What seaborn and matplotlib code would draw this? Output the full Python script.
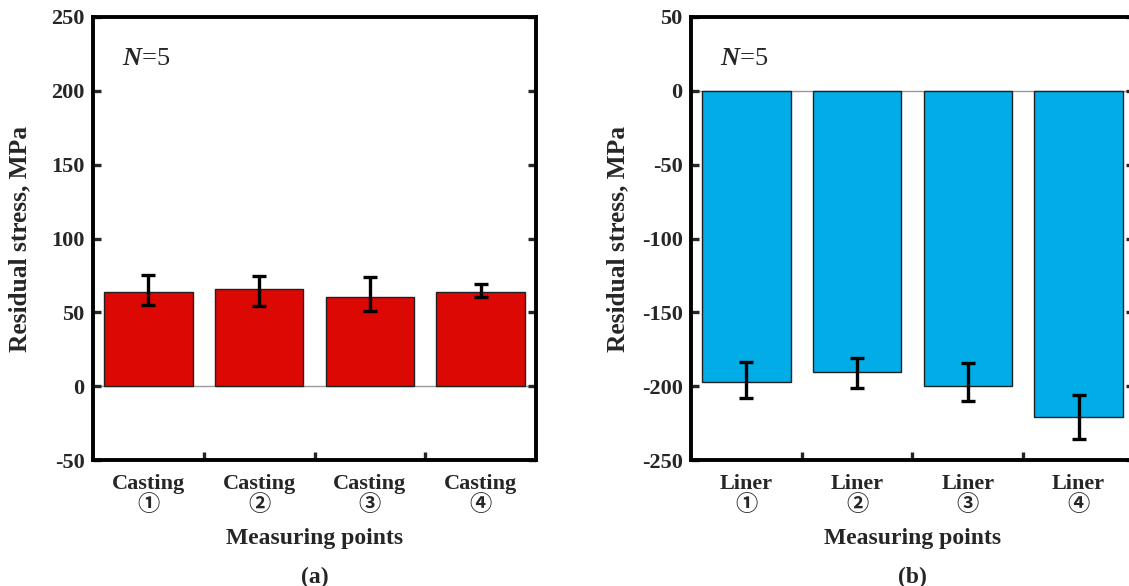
import matplotlib
matplotlib.use("Agg")
import matplotlib.pyplot as plt
import seaborn as sns
import numpy as np

# Residual stress measurements (MPa), N=5 per point
casting_labels = ["Casting\n①", "Casting\n②", "Casting\n③", "Casting\n④"]
casting_mean = [63.6, 65.5, 60.5, 63.9]
casting_err_low = [8.3, 11.5, 9.5, 3.2]
casting_err_high = [12.0, 9.2, 13.3, 5.6]

liner_labels = ["Liner\n①", "Liner\n②", "Liner\n③", "Liner\n④"]
liner_mean = [-197.4, -190.6, -199.6, -220.8]
liner_err_low = [10.8, 10.8, 10.6, 15.2]
liner_err_high = [13.6, 9.5, 15.1, 14.6]

sns.set_theme(style="white")
plt.rcParams["font.family"] = ["Liberation Serif", "Noto Sans CJK SC", "DejaVu Sans"]
plt.rcParams["font.weight"] = "bold"
plt.rcParams["mathtext.fontset"] = "custom"
plt.rcParams["mathtext.it"] = "Liberation Serif:italic"
plt.rcParams["mathtext.rm"] = "Liberation Serif"

fig = plt.figure(figsize=(11.29, 5.86), dpi=100)
ax_a = fig.add_axes([0.0824, 0.215, 0.3924, 0.756])
ax_b = fig.add_axes([0.612, 0.215, 0.3924, 0.756])

panels = [
    (ax_a, casting_labels, casting_mean, casting_err_low, casting_err_high,
     "#DC0804", (-50, 250), np.arange(-50, 251, 50), "(a)"),
    (ax_b, liner_labels, liner_mean, liner_err_low, liner_err_high,
     "#02ACE7", (-250, 50), np.arange(-250, 51, 50), "(b)"),
]

for ax, labels, mean, lo, hi, color, ylim, yticks, tag in panels:
    sns.barplot(x=labels, y=mean, color=color, saturation=1, width=0.8,
                edgecolor="#202020", linewidth=1.0, errorbar=None, ax=ax)
    ax.errorbar(np.arange(len(mean)), mean, yerr=[lo, hi], fmt="none",
                ecolor="black", elinewidth=2.4, capsize=5, capthick=2.4, zorder=5)
    ax.axhline(0, color="#999999", linewidth=1.0, zorder=0.5)
    ax.set_xlim(-0.5, 3.5)
    ax.set_ylim(*ylim)
    ax.set_yticks(yticks)
    ax.set_yticklabels([str(v) for v in yticks], fontsize=16, fontweight="bold")
    ax.set_xticks(range(4))
    ax.set_xticklabels(labels, fontsize=16, fontweight="bold", linespacing=1.08)
    ax.set_xticks([0.5, 1.5, 2.5], minor=True)
    ax.tick_params(axis="x", which="major", length=0, pad=10)
    ax.tick_params(axis="x", which="minor", direction="in", length=6, width=2.4,
                   bottom=True, top=False)
    ax.tick_params(axis="y", which="major", direction="in", length=6, width=2.4,
                   left=True, right=True, pad=6)
    for sp in ax.spines.values():
        sp.set_visible(True)
        sp.set_linewidth(2.8)
        sp.set_color("black")
    ax.set_ylabel("Residual stress, MPa", fontsize=18.3, fontweight="bold")
    ax.yaxis.set_label_coords(-0.140, 0.5)
    ax.set_xlabel("Measuring points", fontsize=17, fontweight="bold")
    ax.xaxis.set_label_coords(0.5, -0.153)
    ax.text(0.065, 0.905, "$\\mathit{N}$=5", transform=ax.transAxes,
            fontsize=19, fontweight="normal", fontfamily="Liberation Serif",
            va="center", ha="left")
    ax.text(0.5, -0.265, tag, transform=ax.transAxes, fontsize=17,
            fontweight="bold", ha="center", va="center")

fig.savefig("out.png", dpi=100)
